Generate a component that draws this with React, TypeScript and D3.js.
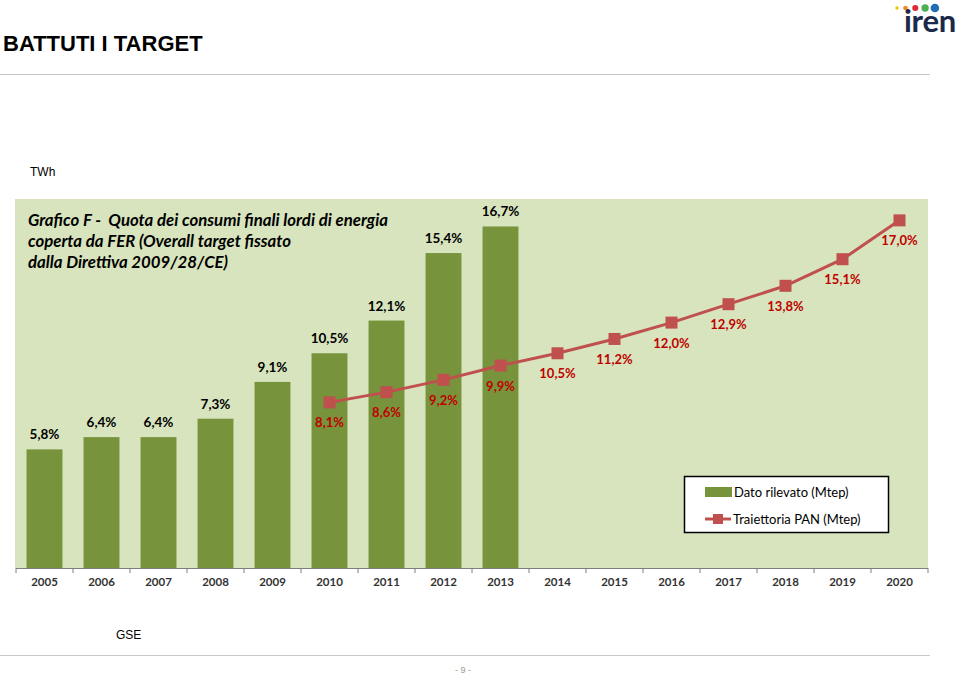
import React from "react";
import * as d3 from "d3";

const years = ["2005","2006","2007","2008","2009","2010","2011","2012","2013","2014","2015","2016","2017","2018","2019","2020"];
const barYears = ["2005","2006","2007","2008","2009","2010","2011","2012","2013"];
const barValues = [5.8, 6.4, 6.4, 7.3, 9.1, 10.5, 12.1, 15.4, 16.7];
const lineYears = ["2010","2011","2012","2013","2014","2015","2016","2017","2018","2019","2020"];
const lineValues = [8.1, 8.6, 9.2, 9.9, 10.5, 11.2, 12.0, 12.9, 13.8, 15.1, 17.0];
const titleLines = [
  "Grafico F -  Quota dei consumi finali lordi di energia",
  "coperta da FER (Overall target fissato",
  "dalla Direttiva 2009/28/CE)",
];
const legendLabels = ["Dato rilevato (Mtep)", "Traiettoria PAN (Mtep)"];
const logoDots = ["#f2c500", "#f08a24", "#e3262f", "#4caf50", "#1f6fb5"];

const fmt = (v: number) => v.toFixed(1).replace(".", ",") + "%";

export default function App() {
  const W = 960, H = 675;
  const plotL = 15, plotR = 928, plotT = 199, plotB = 568;
  const x = d3.scaleBand<string>().domain(years).range([16, 928]).paddingInner(0.37).paddingOuter(0.185);
  const xb = d3.scaleBand<string>().domain(years).range([16, 928]);
  const y = d3.scaleLinear().domain([0, 17]).range([plotB, plotB - 17 * 20.45]);
  const cx = (yr: string) => (xb(yr) as number) + xb.bandwidth() / 2;
  const line = d3.line<number>().x((_, i) => cx(lineYears[i])).y((d) => y(d));
  const font = "Lato, 'Open Sans', sans-serif";
  const lineColor = "#c0504d";
  const labelRed = "#c00000";

  return (
    <svg width={W} height={H} style={{ position: "absolute", left: 0, top: 0, background: "#fff" }}>
      {/* Header */}
      <text x={3} y={51} fontFamily="Arial, 'Liberation Sans', sans-serif" fontWeight="bold" fontSize={22} fill="#000">BATTUTI I TARGET</text>
      <line x1={0} x2={930} y1={74.5} y2={74.5} stroke="#c8c8c8" strokeWidth={1} />
      {/* Logo */}
      {logoDots.map((c, i) => (
        <circle key={c} cx={897 + i * 8.5 + (i > 1 ? (i - 1) * 1.3 : 0)} cy={8} r={1.7 + i * 0.65} fill={c} />
      ))}
      <text x={904} y={32} fontFamily="Lato, 'Open Sans', sans-serif" fontWeight="bold" fontSize={31} fill="#1b2a4a" letterSpacing={-0.3}>iren</text>

      <text x={30} y={176} fontFamily="Arial, 'Liberation Sans', sans-serif" fontSize={12} fill="#000">TWh</text>

      {/* Plot background */}
      <rect x={plotL} y={plotT} width={plotR - plotL} height={plotB - plotT} fill="#d7e4bd" />

      {/* Title */}
      {titleLines.map((t, i) => (
        <text key={i} x={28} y={226 + i * 21} fontFamily={font} fontWeight="bold" fontStyle="italic" fontSize={16.8} fill="#000" style={{ whiteSpace: "pre" }}>{t}</text>
      ))}

      {/* Bars */}
      {barYears.map((yr, i) => (
        <g key={yr}>
          <rect x={x(yr)} y={y(barValues[i])} width={x.bandwidth()} height={plotB - y(barValues[i])} fill="#77933c" />
          <text x={cx(yr)} y={y(barValues[i]) - 10} textAnchor="middle" fontFamily={font} fontWeight="bold" fontSize={13.5} fill="#000">{fmt(barValues[i])}</text>
        </g>
      ))}

      {/* Line */}
      <path d={line(lineValues) as string} fill="none" stroke={lineColor} strokeWidth={3} />
      {lineValues.map((v, i) => (
        <g key={lineYears[i]}>
          <rect x={cx(lineYears[i]) - 6} y={y(v) - 6} width={12} height={12} fill={lineColor} />
          <text x={cx(lineYears[i])} y={y(v) + 25} textAnchor="middle" fontFamily={font} fontWeight="bold" fontSize={13} fill={labelRed}>{fmt(v)}</text>
        </g>
      ))}

      {/* Axis */}
      <line x1={16} x2={928} y1={plotB + 0.5} y2={plotB + 0.5} stroke="#7f7f7f" strokeWidth={1} />
      {years.concat(["end"]).map((yr, i) => (
        <line key={yr} x1={16 + i * xb.bandwidth()} x2={16 + i * xb.bandwidth()} y1={plotB} y2={plotB + 5} stroke="#7f7f7f" strokeWidth={1} />
      ))}
      {years.map((yr) => (
        <text key={yr} x={cx(yr)} y={586} textAnchor="middle" fontFamily={font} fontWeight="bold" fontSize={11.5} fill="#333">{yr}</text>
      ))}

      {/* Legend */}
      <rect x={684.5} y={476.5} width={204} height={56} fill="#fff" stroke="#000" strokeWidth={1.5} />
      <rect x={705} y={487} width={27} height={10} fill="#77933c" />
      <text x={734} y={497} fontFamily={font} fontSize={13} fill="#000">{legendLabels[0]}</text>
      <line x1={705} x2={731} y1={519} y2={519} stroke={lineColor} strokeWidth={3} />
      <rect x={713} y={514} width={10} height={10} fill={lineColor} />
      <text x={733} y={524} fontFamily={font} fontSize={13} fill="#000">{legendLabels[1]}</text>

      {/* Footer */}
      <text x={116} y={639} fontFamily="Arial, 'Liberation Sans', sans-serif" fontSize={12} fill="#000">GSE</text>
      <line x1={0} x2={930} y1={655.5} y2={655.5} stroke="#c8c8c8" strokeWidth={1} />
      <text x={463} y={673} textAnchor="middle" fontFamily="Arial, 'Liberation Sans', sans-serif" fontSize={9} fill="#999">- 9 -</text>
    </svg>
  );
}
